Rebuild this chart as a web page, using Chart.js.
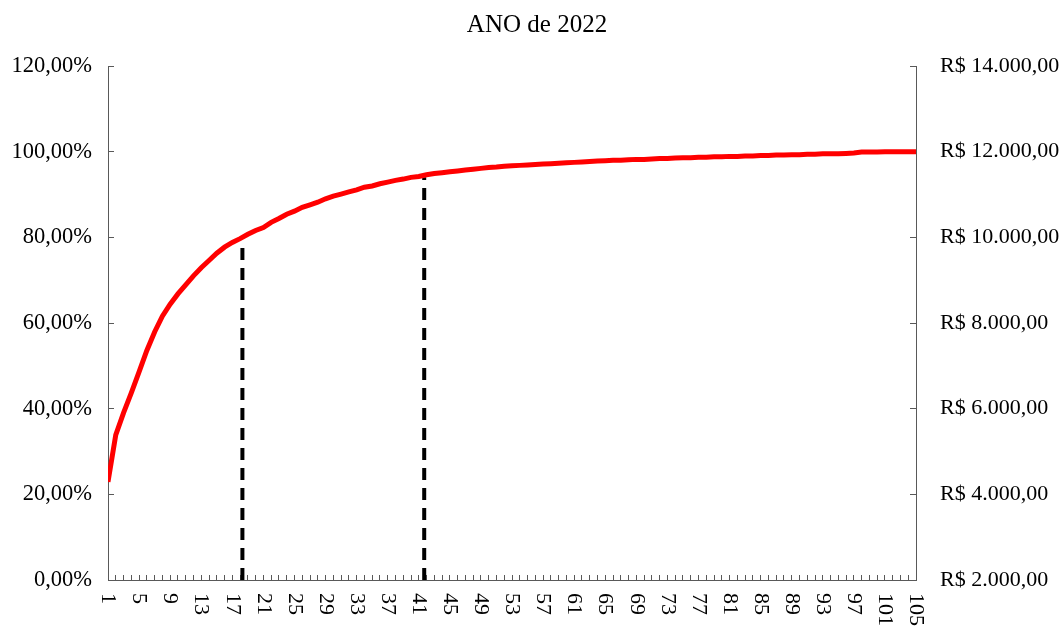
<!DOCTYPE html>
<html>
<head>
<meta charset="utf-8">
<title>ANO de 2022</title>
<script src="https://cdn.jsdelivr.net/npm/chart.js@4.4.1/dist/chart.umd.min.js"></script>
<style>
  html, body { margin: 0; padding: 0; background: #fff; }
  #wrap { width: 1062px; height: 626px; }
</style>
</head>
<body>
<div id="wrap"><canvas id="pareto"></canvas></div>
<script>
// % acumulado por item
const cumPct = [
  22.9, 33.9, 39.0, 43.7, 48.6, 53.6, 57.9, 61.6, 64.4, 66.8,
  68.9, 71.0, 72.9, 74.6, 76.3, 77.7, 78.8, 79.7, 80.7, 81.6,
  82.3, 83.5, 84.4, 85.4, 86.1, 87.0, 87.6, 88.2, 89.0, 89.6,
  90.1, 90.6, 91.1, 91.7, 92.0, 92.5, 92.9, 93.3, 93.6, 94.0,
  94.2, 94.6, 94.9, 95.1, 95.3, 95.5, 95.7, 95.9, 96.1, 96.3,
  96.4, 96.6, 96.7, 96.8, 96.9, 97.0, 97.1, 97.2, 97.3, 97.4,
  97.5, 97.6, 97.7, 97.8, 97.9, 98.0, 98.0, 98.1, 98.2, 98.2,
  98.3, 98.4, 98.4, 98.5, 98.6, 98.6, 98.7, 98.7, 98.8, 98.8,
  98.9, 98.9, 99.0, 99.0, 99.1, 99.1, 99.2, 99.2, 99.3, 99.3,
  99.4, 99.4, 99.5, 99.5, 99.5, 99.6, 99.7, 99.9, 99.9, 99.9,
  100.0, 100.0, 100.0, 100.0, 100.0
];
const categories = cumPct.map((_, i) => i + 1);
const xTickLabels = [1, 5, 9, 13, 17, 21, 25, 29, 33, 37, 41, 45, 49, 53, 57, 61, 65, 69, 73, 77, 81, 85, 89, 93, 97, 101, 105];
const pctTicks = [0, 20, 40, 60, 80, 100, 120];
const brlTicks = [2000, 4000, 6000, 8000, 10000, 12000, 14000];

// linhas de corte (tracejadas)
const cutX = [18.3, 41.7];
const cutTop = [79.4, 94.0];

const serif = "'Liberation Serif', 'Times New Roman', serif";
Chart.defaults.font.family = serif;
Chart.defaults.color = '#000';

const fmtPct = v => v.toFixed(2).replace('.', ',') + '%';
const fmtBrl = v => {
  const [int, dec] = v.toFixed(2).split('.');
  return 'R$ ' + int.replace(/\B(?=(\d{3})+(?!\d))/g, '.') + ',' + dec;
};

// rótulos do eixo X girados 90° no sentido horário
const xLabels = {
  id: 'xLabels',
  afterDraw(chart) {
    const xs = chart.scales.x, ctx = chart.ctx;
    ctx.save();
    ctx.font = '22px ' + serif;
    ctx.fillStyle = '#000';
    ctx.textAlign = 'left';
    ctx.textBaseline = 'middle';
    xs.ticks.forEach(t => {
      if (!t.label) return;
      ctx.save();
      ctx.translate(xs.getPixelForValue(t.value), xs.top + 13);
      ctx.rotate(Math.PI / 2);
      ctx.fillText(t.label, 0, 0);
      ctx.restore();
    });
    ctx.restore();
  }
};

const cutSets = cutX.map((x, i) => ({
  label: 'corte ' + (i + 1),
  data: [{ x: x, y: 0 }, { x: x, y: cutTop[i] }],
  borderColor: '#000',
  borderWidth: 4,
  borderDash: [12, 8],
  pointRadius: 0,
  yAxisID: 'y'
}));

new Chart(document.getElementById('pareto'), {
  type: 'line',
  data: {
    datasets: [
      {
        label: '% acumulado',
        data: categories.map((c, i) => ({ x: c, y: cumPct[i] })),
        borderColor: '#ff0000',
        borderWidth: 5,
        pointRadius: 0,
        tension: 0,
        yAxisID: 'y'
      },
      ...cutSets
    ]
  },
  options: {
    responsive: true,
    maintainAspectRatio: false,
    animation: false,
    layout: { padding: { left: 12, right: 0, top: 6, bottom: 15 } },
    plugins: {
      legend: { display: false },
      tooltip: { enabled: false },
      title: {
        display: true,
        text: 'ANO de 2022',
        color: '#000',
        font: { size: 25, weight: 'normal', family: serif },
        padding: { top: 4, bottom: 26 }
      }
    },
    scales: {
      x: {
        type: 'linear',
        min: 1,
        max: categories.length,
        border: { color: '#595959', width: 1 },
        grid: { drawOnChartArea: false, tickLength: -5, color: '#595959' },
        ticks: {
          stepSize: 1,
          autoSkip: false,
          minRotation: 90,
          maxRotation: 90,
          color: 'rgba(0,0,0,0)',
          font: { size: 22 },
          callback: v => xTickLabels.includes(v) ? String(v) : ''
        },
        afterFit: s => { s.height = 31; }
      },
      y: {
        position: 'left',
        min: pctTicks[0],
        max: pctTicks[pctTicks.length - 1],
        border: { color: '#595959', width: 1 },
        grid: { drawOnChartArea: false, tickLength: -6, color: '#595959' },
        afterBuildTicks: s => { s.ticks = pctTicks.map(v => ({ value: v })); },
        afterFit: s => { s.width = 96; },
        ticks: { font: { size: 22.5 }, padding: 22, color: '#000', callback: v => fmtPct(v) }
      },
      y2: {
        position: 'right',
        min: brlTicks[0],
        max: brlTicks[brlTicks.length - 1],
        border: { color: '#595959', width: 1 },
        grid: { drawOnChartArea: false, tickLength: -6, color: '#595959' },
        afterBuildTicks: s => { s.ticks = brlTicks.map(v => ({ value: v })); },
        afterFit: s => { s.width = 146; },
        ticks: { font: { size: 22 }, padding: 30, color: '#000', callback: v => fmtBrl(v) }
      }
    }
  },
  plugins: [xLabels]
});
</script>
</body>
</html>
